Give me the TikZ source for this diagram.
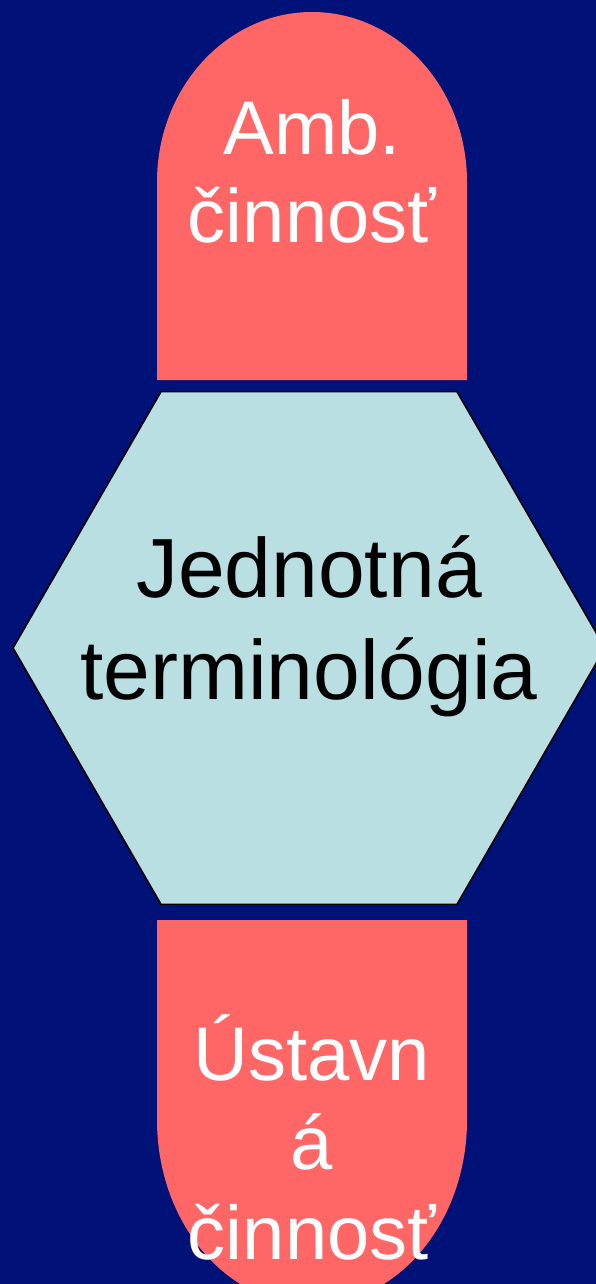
\documentclass[tikz,border=0pt]{standalone}
\usepackage{fontspec}
\setmainfont{Liberation Sans}
\usetikzlibrary{shapes.geometric}
\definecolor{slidenavy}{HTML}{001277}
\definecolor{tabred}{HTML}{FF6666}
\definecolor{hexcyan}{HTML}{B9DFE2}

\begin{document}
\begin{tikzpicture}[x=1pt,y=-1pt,tab/.style={fill=tabred},lbl/.style={align=center,text=white,font=\fontsize{76pt}{88pt}\selectfont},hex/.style={regular polygon,regular polygon sides=6,minimum size=592pt,inner sep=0pt,draw=black,line width=1.6pt,fill=hexcyan}]
\useasboundingbox (0,0) rectangle (596,1284);
\clip (0,0) rectangle (596,1284);
\fill[slidenavy] (0,0) rectangle (596,1284);
% upper tab
\fill[tab] (157,380) -- (157,182) arc[start angle=180,end angle=0,x radius=155pt,y radius=170pt] -- (467,380) -- cycle;
\node[lbl] (amb) at (312,171) {Amb.\\činnosť};
% hexagon
\node[hex] (core) at (309,648) {};
\node[align=center,font=\fontsize{84pt}{102pt}\selectfont] (term) at (309,626) {Jednotná\\terminológia};
% lower tab
\fill[tab] (157,920) -- (467,920) -- (467,1120) arc[start angle=0,end angle=-180,x radius=155pt,y radius=185pt] -- cycle;
\node[lbl,font=\fontsize{76pt}{89.5pt}\selectfont] (inst) at (312,1137) {Ústavn\\á\\činnosť};
\end{tikzpicture}
\end{document}
